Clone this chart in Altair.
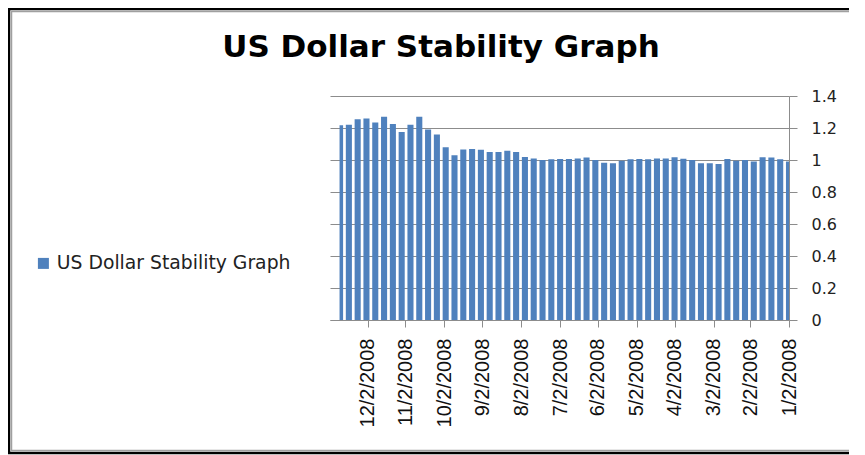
import altair as alt
import pandas as pd

chart_title = "US Dollar Stability Graph"
series_name = "US Dollar Stability Graph"

week_first_day = [
    "2008-01-02", "2008-01-07", "2008-01-14", "2008-01-21", "2008-01-28",
    "2008-02-04", "2008-02-11", "2008-02-18", "2008-02-25",
    "2008-03-03", "2008-03-10", "2008-03-17", "2008-03-24", "2008-03-31",
    "2008-04-07", "2008-04-14", "2008-04-21", "2008-04-28",
    "2008-05-05", "2008-05-12", "2008-05-19", "2008-05-26",
    "2008-06-02", "2008-06-09", "2008-06-16", "2008-06-23", "2008-06-30",
    "2008-07-07", "2008-07-14", "2008-07-21", "2008-07-28",
    "2008-08-04", "2008-08-11", "2008-08-18", "2008-08-25",
    "2008-09-01", "2008-09-08", "2008-09-15", "2008-09-22", "2008-09-29",
    "2008-10-06", "2008-10-13", "2008-10-20", "2008-10-27",
    "2008-11-03", "2008-11-10", "2008-11-17", "2008-11-24",
    "2008-12-01", "2008-12-08", "2008-12-15", "2008-12-22",
]
week_last_day = [
    "2008-01-04", "2008-01-11", "2008-01-18", "2008-01-25", "2008-02-01",
    "2008-02-08", "2008-02-15", "2008-02-22", "2008-02-29",
    "2008-03-07", "2008-03-14", "2008-03-21", "2008-03-28", "2008-04-04",
    "2008-04-11", "2008-04-18", "2008-04-25", "2008-05-02",
    "2008-05-09", "2008-05-16", "2008-05-23", "2008-05-30",
    "2008-06-06", "2008-06-13", "2008-06-20", "2008-06-27", "2008-07-04",
    "2008-07-11", "2008-07-18", "2008-07-25", "2008-08-01",
    "2008-08-08", "2008-08-15", "2008-08-22", "2008-08-29",
    "2008-09-05", "2008-09-12", "2008-09-19", "2008-09-26", "2008-10-03",
    "2008-10-10", "2008-10-17", "2008-10-24", "2008-10-31",
    "2008-11-07", "2008-11-14", "2008-11-21", "2008-11-28",
    "2008-12-05", "2008-12-12", "2008-12-19", "2008-12-24",
]
rate = [
    0.990, 1.004, 1.015, 1.017, 0.990,
    1.000, 0.996, 1.007, 0.975,
    0.980, 0.980, 1.000, 1.008, 1.017,
    1.010, 1.010, 1.004, 1.007,
    1.004, 0.996, 0.980, 0.983,
    1.000, 1.015, 1.010, 1.007, 1.007,
    1.005, 1.000, 1.010, 1.018,
    1.050, 1.058, 1.050, 1.050,
    1.064, 1.068, 1.065, 1.030, 1.080,
    1.160, 1.190, 1.270, 1.220,
    1.175, 1.225, 1.270, 1.235,
    1.260, 1.255, 1.220, 1.217,
]

x_tick_months = [1, 2, 3, 4, 5, 6, 7, 8, 9, 10, 11, 12]
y_tick_values = [0, 0.2, 0.4, 0.6, 0.8, 1.0, 1.2, 1.4]

df = pd.DataFrame({
    "first": pd.to_datetime(week_first_day),
    "last": pd.to_datetime(week_last_day),
    "rate": rate,
    "series": series_name,
})
df["x_start"] = df["first"] - pd.Timedelta(hours=10)
df["x_end"] = df["last"] + pd.Timedelta(hours=10)

grid_col = "#8c8c8c"

bars = alt.Chart(df).mark_bar(clip=True).encode(
    x=alt.X(
        "x_start:T",
        scale=alt.Scale(
            domain=[alt.DateTime(year=2008, month=1, date=2),
                    alt.DateTime(year=2009, month=1, date=1)],
            reverse=True,
        ),
        axis=alt.Axis(
            title=None,
            values=[alt.DateTime(year=2008, month=m, date=2) for m in x_tick_months],
            format="%-m/%-d/%Y",
            labelAngle=270,
            labelAlign="right",
            labelBaseline="middle",
            labelPadding=11,
            labelFont="Liberation Sans",
            labelFontSize=20,
            labelColor="#111111",
            tickSize=7,
            tickColor=grid_col,
            domainColor=grid_col,
            grid=False,
            labelOverlap=False,
        ),
    ),
    x2="x_end:T",
    y=alt.Y(
        "rate:Q",
        scale=alt.Scale(domain=[0, 1.4], nice=False),
        axis=alt.Axis(
            title=None,
            orient="right",
            values=y_tick_values,
            format="~g",
            labelFont="DejaVu Sans",
            labelFontSize=16,
            labelColor="#222222",
            labelPadding=14,
            tickSize=8,
            tickColor=grid_col,
            domainColor=grid_col,
            grid=True,
            gridColor=grid_col,
            gridWidth=1.2,
        ),
    ),
    y2=alt.datum(0),
    color=alt.Color(
        "series:N",
        scale=alt.Scale(range=["#4F81BD"]),
        legend=alt.Legend(
            title=None,
            orient="none",
            legendX=-296,
            legendY=158,
            symbolType="square",
            symbolSize=121,
            symbolStrokeWidth=0,
            labelFont="DejaVu Sans",
            labelFontSize=18.8,
            labelColor="#222222",
            labelOffset=4,
            labelLimit=0,
            padding=0,
        ),
    ),
)

one = pd.DataFrame({"t": [chart_title]})

outer = alt.Chart(one).mark_rect(fillOpacity=0, stroke="black", strokeWidth=2.5).encode(
    x=alt.value(-321), x2=alt.value(560), y=alt.value(-87), y2=alt.value(357)
)
inner = alt.Chart(one).mark_rect(fillOpacity=0, stroke="#a0a0a0", strokeWidth=1.5).encode(
    x=alt.value(-318.5), x2=alt.value(560), y=alt.value(-84.5), y2=alt.value(354.5)
)

title = alt.Chart(one).mark_text(
    font="DejaVu Sans", fontSize=31, fontWeight="bold", align="center",
    baseline="alphabetic", color="black",
).encode(x=alt.value(111), y=alt.value(-39), text="t:N")

chart = alt.layer(outer, inner, bars, title).properties(
    width=459,
    height=224,
    autosize=alt.AutoSizeParams(type="none"),
    padding={"left": 322, "top": 88, "right": 60, "bottom": 140},
    background="white",
).configure_view(strokeWidth=0)

chart.save("out.html", embed_options={"renderer": "svg", "actions": False})
